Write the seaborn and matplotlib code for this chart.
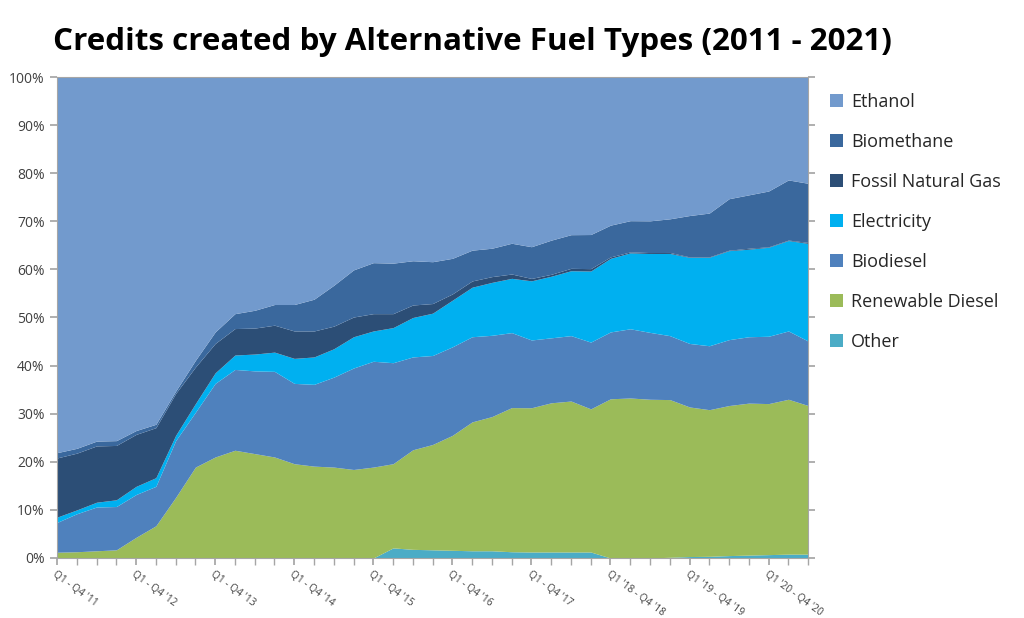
import numpy as np
import pandas as pd
import seaborn as sns
import matplotlib
matplotlib.use("Agg")
from matplotlib import pyplot as plt
from matplotlib.patches import Patch

# share of credits (%) per quarter, 2011 Q1 .. 2020 Q3
other = [0, 0, 0, 0, 0, 0, 0, 0, 0, 0, 0, 0, 0, 0, 0, 0, 0,
         2.1, 1.8, 1.7, 1.6, 1.5, 1.5, 1.3, 1.25, 1.25, 1.25, 1.25,
         0, 0, 0, 0.15, 0.3, 0.35, 0.5, 0.6, 0.7, 0.8, 0.8]
renewable_diesel = [1.2, 1.3, 1.5, 1.7, 4.3, 6.7, 12.6, 18.9, 21.0, 22.4,
                    21.7, 21.0, 19.6, 19.1, 18.9, 18.4, 18.9, 17.5, 20.7, 21.9,
                    23.9, 26.8, 27.9, 30.0, 30.0, 31.0, 31.4, 29.8, 33.1, 33.3,
                    33.0, 32.8, 31.1, 30.5, 31.2, 31.6, 31.4, 32.2, 30.9]
biodiesel = [6.2, 7.9, 9.1, 9.0, 8.9, 8.2, 11.8, 11.4, 15.3, 16.8,
             17.2, 17.8, 16.7, 17.0, 18.7, 21.1, 22.0, 21.0, 19.3, 18.5,
             18.4, 17.7, 16.9, 15.6, 14.1, 13.5, 13.6, 13.9, 13.9, 14.4,
             13.9, 13.3, 13.2, 13.3, 13.7, 13.8, 14.0, 14.2, 13.4]
electricity = [1.1, 0.8, 1.0, 1.4, 1.7, 1.8, 1.1, 1.8, 2.2, 3.0,
               3.5, 4.0, 5.2, 5.7, 5.9, 6.5, 6.3, 7.3, 8.2, 8.8,
               9.7, 10.3, 11.0, 11.3, 12.3, 12.8, 13.5, 14.8, 15.3, 15.8,
               16.4, 17.1, 17.9, 18.4, 18.5, 18.2, 18.5, 18.8, 20.3]
fossil_gas = [12.3, 11.8, 11.7, 11.3, 10.8, 10.4, 8.7, 7.6, 6.1, 5.5,
              5.4, 5.6, 5.7, 5.4, 4.7, 4.1, 3.6, 2.9, 2.6, 2.0,
              1.3, 1.3, 1.2, 0.9, 0.5, 0.4, 0.5, 0.5, 0.3, 0.2,
              0.2, 0.2, 0.1, 0.1, 0.1, 0.2, 0.1, 0.1, 0.2]
biomethane = [1.1, 1.0, 1.0, 1.0, 0.8, 0.7, 0.5, 1.4, 2.4, 3.1,
              3.7, 4.3, 5.5, 6.6, 8.5, 9.8, 10.6, 10.5, 9.2, 8.7,
              7.4, 6.4, 5.9, 6.4, 6.6, 7.1, 7.0, 7.1, 6.6, 6.5,
              6.6, 7.0, 8.6, 9.1, 10.7, 11.1, 11.6, 12.5, 12.3]
ethanol = [78.1, 77.2, 75.7, 75.6, 73.5, 72.2, 65.3, 58.9, 53.0, 49.2,
           48.5, 47.3, 47.3, 46.2, 43.3, 40.1, 38.6, 38.7, 38.2, 38.4,
           37.7, 36.0, 35.6, 34.6, 35.3, 33.9, 32.8, 32.8, 30.8, 29.9,
           29.9, 29.5, 28.8, 28.3, 25.3, 24.5, 23.7, 21.4, 22.1]

tick_labels = ["Q1 - Q4 '11", "Q1 - Q4 '12", "Q1 - Q4 '13", "Q1 - Q4 '14",
               "Q1 - Q4 '15", "Q1 - Q4 '16", "Q1 - Q4 '17", "Q1 '18 - Q4 '18",
               "Q1 '19 - Q4 '19", "Q1 '20 - Q4 '20"]

names = ["Other", "Renewable Diesel", "Biodiesel", "Electricity",
         "Fossil Natural Gas", "Biomethane", "Ethanol"]
colors = ["#4BACC6", "#9BBB59", "#4F81BD", "#00B0F0",
          "#2C4E76", "#3A689D", "#729ACD"]

df = pd.DataFrame(dict(zip(names, [other, renewable_diesel, biodiesel, electricity,
                                   fossil_gas, biomethane, ethanol])))
df = df.div(df.sum(axis=1), axis=0) * 100  # 100% stacked

sns.set_theme(style="ticks")
plt.rcParams['font.family'] = ['Open Sans', 'DejaVu Sans']

fig = plt.figure(figsize=(10.24, 6.18), dpi=100)
ax = fig.add_axes([0.0557, 0.0971, 0.7335, 0.7783])

x = np.arange(len(df))
ax.stackplot(x, df.T.values, colors=sns.color_palette(colors), linewidth=0)

ax.set_xlim(0, len(df) - 1)
ax.set_ylim(0, 100)
ax.set_yticks(range(0, 101, 10))
ax.set_yticklabels([f"{v}%" for v in range(0, 101, 10)], fontsize=10, color="#404040")
ax.set_xticks(x, minor=True)
ax.set_xticks(x[::4])
ax.set_xticklabels(tick_labels, rotation=-36, ha="left", va="top",
                   rotation_mode="anchor", fontsize=7.3, color="#404040")
ax.tick_params(axis="x", which="both", length=5, color="#A6A6A6", pad=3)
ax.tick_params(axis="y", length=5, color="#A6A6A6", right=True, pad=4)
for s in ax.spines.values():
    s.set_color("#A6A6A6")
    s.set_linewidth(0.8)

handles = [Patch(facecolor=c, edgecolor="none") for c in colors[::-1]]
fig.legend(handles, names[::-1], loc="upper left", bbox_to_anchor=(0.795, 0.876),
           frameon=False, fontsize=13, handlelength=0.7, handleheight=0.7,
           handletextpad=0.45, labelspacing=1.22, labelcolor="#262626")

fig.text(0.052, 0.932, "Credits created by Alternative Fuel Types (2011 - 2021)",
         fontsize=22.6, fontweight="bold", ha="left", va="center", color="black")

fig.savefig("out.png", dpi=100)
